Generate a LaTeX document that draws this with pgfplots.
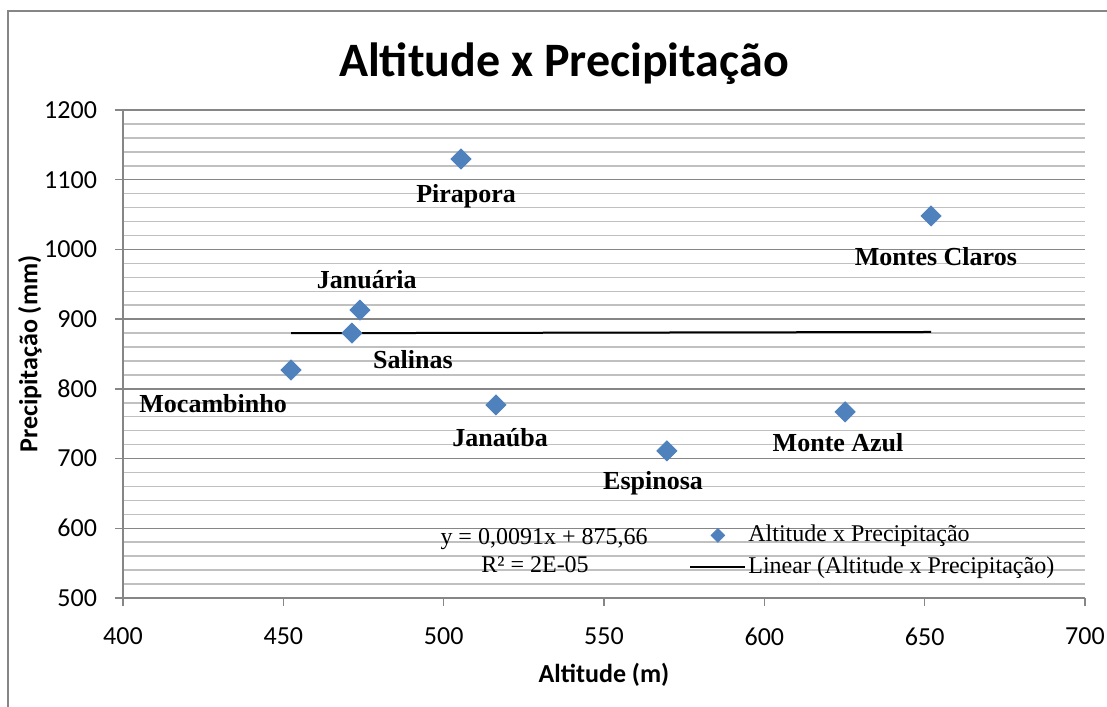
\documentclass[border=0pt]{standalone}
\usepackage{fontspec}
\setmainfont{Liberation Serif}
\newfontfamily\calibri{Carlito}
\usepackage{pgfplots}
\pgfplotsset{compat=1.18}
\definecolor{mblue}{HTML}{4F81BD}
\definecolor{majgray}{HTML}{868686}
\definecolor{mingray}{HTML}{C0C0C0}

\pgfplotsset{
  dlegend/.style={legend image code/.code={\draw[##1, mark size=2.4pt] plot coordinates {(13.75pt,0pt)};}},
  llegend/.style={legend image code/.code={\draw[##1] (0pt,0pt) -- (27.5pt,0pt);}},
}

\pgfplotstableread{
x y
505.4 1129.7
652.0 1048.0
473.9 913.0
471.4 880.0
452.4 827.0
516.3 777.0
625.2 767.0
569.6 711.0
}\datatable

\begin{document}
\begin{tikzpicture}
\useasboundingbox (0,0) rectangle (553.5pt,353pt);
\draw[majgray, line width=1pt] (4pt,-5pt) -- (4pt,347.5pt) -- (560pt,347.5pt);
\node[font=\calibri\bfseries\fontsize{24}{28}\selectfont, anchor=base, inner sep=0pt] at (282pt,314.5pt) {Altitude x Precipitação};
\begin{axis}[
 at={(61.5pt,54pt)}, anchor=south west,
 scale only axis, width=481pt, height=244pt,
 xmin=400, xmax=700, ymin=500, ymax=1200,
 xtick distance=50, ytick distance=100,
 minor y tick num=4,
 axis x line=bottom, axis y line=left,
 axis line style={majgray, line width=0.75pt, -},
 major tick style={majgray, line width=0.75pt},
 tick align=outside, major tick length=4pt, minor tick length=0pt,
 ymajorgrids, yminorgrids,
 major grid style={majgray, line width=0.75pt},
 minor grid style={mingray, line width=0.75pt},
 ticklabel style={font=\calibri\fontsize{13}{15}\selectfont},
 yticklabel style={xshift=-5.5pt},
 xticklabel style={yshift=-7.5pt},
 /pgf/number format/assume math mode=true,
 /pgf/number format/1000 sep={},
 xlabel={Altitude (m)}, ylabel={Precipitação (mm)},
 label style={font=\calibri\bfseries\fontsize{13}{15}\selectfont},
 xlabel style={at={([yshift=-38.5pt]axis description cs:0.5,0)}, anchor=center},
 ylabel style={at={([xshift=-46.5pt]axis description cs:0,0.5)}, anchor=center},
 legend style={at={(axis cs:576.5,609)}, anchor=north west, draw=none, fill=none,
   inner sep=0pt, font=\fontsize{12}{14}\selectfont, row sep=3pt,
   nodes={inner sep=1pt, text height=8.5pt, text depth=2.5pt}},
 legend cell align=left,
 clip=false,
]
\addplot[only marks, mark=square*, mark size=3.54pt,
  mark options={rotate=45, fill=mblue, draw=mblue}, dlegend]
  table[x=x, y=y] {\datatable};
\addlegendentry{Altitude x Precipitação}
\addplot[black, line width=1pt, llegend]
  coordinates {(452.4,879.78) (652.0,881.59)};
\addlegendentry{Linear (Altitude x Precipitação)}

\tikzset{lab/.style={font=\bfseries\fontsize{13}{15}\selectfont, anchor=center, inner sep=0pt}}
\node[lab] at (axis cs:507,1077) {Pirapora};
\node[lab] at (axis cs:653.5,989) {Montes Claros};
\node[lab] at (axis cs:476,956) {Januária};
\node[lab] at (axis cs:490.4,841.4) {Salinas};
\node[lab] at (axis cs:428.1,778.3) {Mocambinho};
\node[lab] at (axis cs:517.6,729.5) {Janaúba};
\node[lab] at (axis cs:623,722.3) {Monte Azul};
\node[lab] at (axis cs:565.3,664.9) {Espinosa};

\node[font=\fontsize{12}{14}\selectfont, anchor=center, inner sep=0pt] at (axis cs:531.3,584.6) {y = 0,0091x + 875,66};
\node[font=\fontsize{12}{14}\selectfont, anchor=center, inner sep=0pt] at (axis cs:528.5,547.3) {R² = 2E-05};
\end{axis}
\end{tikzpicture}
\end{document}
